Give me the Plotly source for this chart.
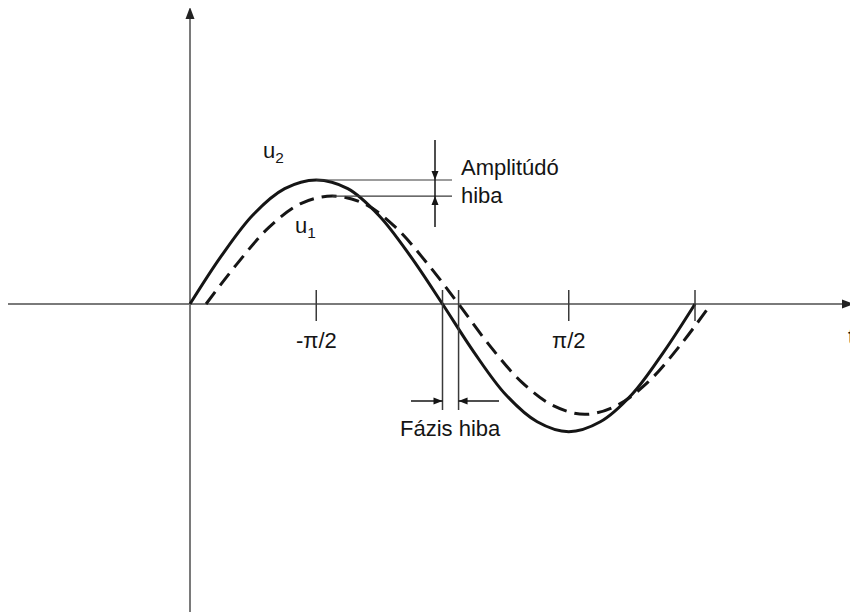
import math
import plotly.graph_objects as go

PI = math.pi

# ---- data ----
# phase angle of sample points, in steps of pi/8
t_points = [k * PI / 8 for k in range(17)]
u2_values = [0.00, 0.39, 0.72, 0.93, 1.00, 0.93, 0.71, 0.38, 0.00,
             -0.39, -0.73, -0.95, -1.03, -0.95, -0.73, -0.39, 0.00]
u1_values = [0.00, 0.33, 0.62, 0.81, 0.87, 0.81, 0.62, 0.33, 0.00,
             -0.34, -0.63, -0.82, -0.89, -0.82, -0.63, -0.34, 0.00]
u1_delay = 0.20          # phase lag of u1 (rad)
tick_values = [PI / 2, 3 * PI / 2, 2 * PI]
tick_labels = ["-π/2", "π/2", ""]
series_names = ["u<sub>2</sub>", "u<sub>1</sub>"]

# ---- layout geometry (page pixels; the figure sits 8px in from the page corner) ----
W, H = 858, 612
PAGE_OFF = 8
OX, OY = 190, 304                 # page-pixel position of origin
SX = 505 / (2 * PI)               # pixels per radian
SY = 124                          # pixels per unit


def X(px):
    return (px - OX) / SX


def Y(py):
    return (OY - py) / SY


FONT = "Liberation Sans, Arial, sans-serif"
FS = 22
INK = "#151515"
AXIS = "#7a7a7a"
THIN = "#3a3a3a"

fig = go.Figure()
fig.add_trace(go.Scatter(x=t_points, y=u2_values, mode="lines",
                         line=dict(color=INK, width=3, shape="spline"),
                         name="u2", showlegend=False, hoverinfo="skip"))
fig.add_trace(go.Scatter(x=[t + u1_delay for t in t_points], y=u1_values, mode="lines",
                         line=dict(color=INK, width=3, dash="15px,8px", shape="spline"),
                         name="u1", showlegend=False, hoverinfo="skip"))

shapes = []
annotations = []


def head(tx, ty, dx, dy, length=9, half=3.5, color=INK):
    """Filled arrow head, tip at page pixel (tx, ty), pointing along (dx, dy)."""
    bx, by = tx - dx * length, ty - dy * length
    px_, py_ = -dy * half, dx * half
    return dict(type="path",
                path=(f"M {X(tx)} {Y(ty)} L {X(bx + px_)} {Y(by + py_)} "
                      f"L {X(bx - px_)} {Y(by - py_)} Z"),
                fillcolor=color, line=dict(color=color, width=0))


def seg(x0, y0, x1, y1, color, width):
    return dict(type="line", x0=x0, x1=x1, y0=y0, y1=y1,
                line=dict(color=color, width=width))


# axes
shapes.append(dict(seg(X(8), 0, X(846), 0, AXIS, 2), layer="below"))
shapes.append(dict(seg(0, Y(630), 0, Y(14), AXIS, 2), layer="below"))
shapes.append(head(854, OY, 1, 0, length=12, half=4.5, color="#222"))
shapes.append(head(OX, 7, 0, -1, length=12, half=4.5, color="#222"))

# ticks and labels
for tv, tl in zip(tick_values, tick_labels):
    shapes.append(seg(tv, Y(290), tv, Y(321), THIN, 1.5))
    if tl:
        annotations.append(dict(x=tv, y=Y(340), text=tl, showarrow=False,
                                font=dict(family=FONT, size=FS, color=INK),
                                xanchor="center", yanchor="middle"))

annotations.append(dict(x=X(846), y=Y(336), text="t", showarrow=False,
                        font=dict(family=FONT, size=FS, color=INK),
                        xanchor="left", yanchor="middle"))

# amplitude error marking
u2_peak = max(u2_values)
u1_peak = max(u1_values)
shapes.append(seg(PI / 2, u2_peak, X(452), u2_peak, THIN, 1.2))
shapes.append(seg(PI / 2 + u1_delay, u1_peak, X(452), u1_peak, THIN, 1.2))
shapes.append(seg(X(435), Y(140), X(435), Y(227), INK, 1.5))
shapes.append(head(435, OY - u2_peak * SY, 0, 1))
shapes.append(head(435, OY - u1_peak * SY, 0, -1))
annotations.append(dict(x=X(459), y=Y(167), text="Amplitúdó", showarrow=False,
                        font=dict(family=FONT, size=FS, color=INK),
                        xanchor="left", yanchor="middle"))
annotations.append(dict(x=X(459), y=Y(195), text="hiba", showarrow=False,
                        font=dict(family=FONT, size=FS, color=INK),
                        xanchor="left", yanchor="middle"))

# phase error marking
z2 = PI
z1 = PI + u1_delay
for z in (z2, z1):
    shapes.append(seg(z, Y(290), z, Y(410), THIN, 1.5))
z2_px = OX + z2 * SX
z1_px = OX + z1 * SX
shapes.append(seg(X(411), Y(401), z2, Y(401), INK, 1.5))
shapes.append(seg(X(499), Y(401), z1, Y(401), INK, 1.5))
shapes.append(head(z2_px, 401, 1, 0))
shapes.append(head(z1_px, 401, -1, 0))
annotations.append(dict(x=X(450), y=Y(428), text="Fázis hiba", showarrow=False,
                        font=dict(family=FONT, size=FS, color=INK),
                        xanchor="center", yanchor="middle"))

# series labels
annotations.append(dict(x=X(261), y=Y(152), text=series_names[0], showarrow=False,
                        font=dict(family=FONT, size=FS, color=INK),
                        xanchor="left", yanchor="middle"))
annotations.append(dict(x=X(293), y=Y(227), text=series_names[1], showarrow=False,
                        font=dict(family=FONT, size=FS, color=INK),
                        xanchor="left", yanchor="middle"))

fig.update_layout(
    width=W, height=H, autosize=False,
    margin=dict(l=0, r=0, t=0, b=0, pad=0),
    paper_bgcolor="white", plot_bgcolor="white",
    xaxis=dict(visible=False, range=[X(PAGE_OFF), X(PAGE_OFF + W)], fixedrange=True),
    yaxis=dict(visible=False, range=[Y(PAGE_OFF + H), Y(PAGE_OFF)], fixedrange=True),
    shapes=shapes, annotations=annotations, showlegend=False,
)

fig.write_html("out.html")
